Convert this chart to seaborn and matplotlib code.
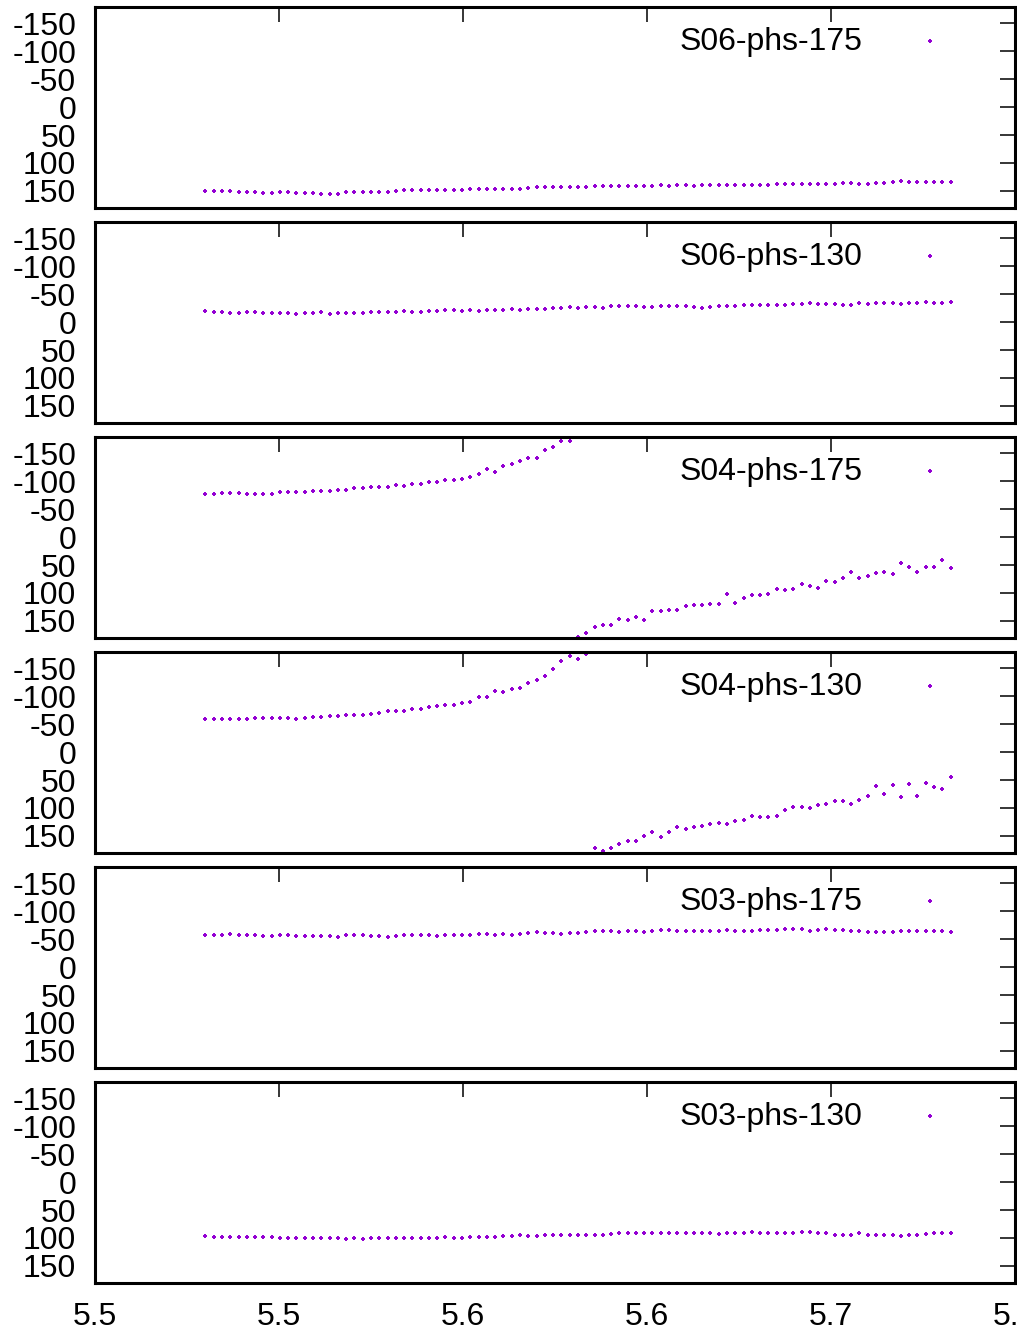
import numpy as np
import pandas as pd
import seaborn as sns
import matplotlib.pyplot as plt

# Data
freq_start, freq_step, n_pts = 5.48, 0.00225, 91
freq = freq_start + freq_step * np.arange(n_pts)

names = ['S06-phs-175', 'S06-phs-130', 'S04-phs-175', 'S04-phs-130', 'S03-phs-175', 'S03-phs-130']

s06_175 = [150, 150, 150, 150, 152, 152, 153, 154, 154, 152, 153, 154, 154, 154, 155, 155, 155, 152, 152, 152,
           152, 152, 152, 150, 149, 149, 149, 149, 149, 149, 149, 149, 147, 147, 147, 147, 146, 146, 146, 145,
           144, 144, 144, 144, 144, 143, 143, 142, 142, 142, 141, 142, 141, 141, 141, 140, 141, 140, 140, 141,
           140, 140, 140, 140, 140, 140, 140, 140, 139, 138, 137, 137, 137, 137, 137, 138, 138, 136, 136, 137,
           137, 136, 136, 134, 133, 134, 134, 134, 134, 134, 135]
s06_130 = [-20, -19, -19, -17, -16, -18, -19, -16, -16, -16, -16, -15, -16, -16, -18, -15, -16, -16, -16, -16,
           -18, -18, -19, -19, -20, -19, -19, -20, -20, -21, -21, -20, -21, -20, -21, -22, -22, -23, -22, -23,
           -24, -23, -25, -26, -27, -26, -27, -27, -26, -28, -29, -28, -28, -27, -27, -28, -28, -28, -28, -27,
           -26, -27, -28, -29, -29, -30, -30, -30, -30, -31, -30, -32, -32, -34, -33, -32, -32, -31, -31, -34,
           -33, -34, -35, -34, -33, -34, -34, -36, -35, -35, -36]
s04_175 = [-78, -77, -79, -79, -79, -77, -77, -77, -78, -80, -80, -80, -80, -82, -83, -82, -85, -84, -88, -88,
           -89, -90, -89, -94, -92, -96, -95, -98, -98, -102, -103, -105, -108, -114, -122, -117, -128, -131, -136, -142,
           -142, -156, -162, -173, -173, 179, 171, 161, 158, 158, 146, 148, 143, 148, 132, 132, 131, 130, 124, 122,
           121, 119, 119, 102, 118, 109, 103, 104, 102, 93, 94, 93, 84, 87, 92, 79, 81, 74, 63, 74,
           69, 64, 62, 66, 47, 53, 63, 53, 53, 41, 55]
s04_130 = [-60, -60, -60, -59, -60, -60, -61, -61, -61, -61, -61, -60, -62, -63, -63, -64, -64, -66, -66, -67,
           -69, -71, -73, -73, -73, -78, -77, -80, -83, -85, -84, -88, -89, -99, -98, -109, -108, -114, -115, -123,
           -129, -136, -149, -164, -172, -167, -176, 172, 178, 172, 165, 160, 160, 150, 144, 152, 144, 135, 137, 134,
           132, 128, 127, 129, 124, 121, 115, 117, 116, 115, 103, 98, 99, 100, 94, 93, 87, 88, 93, 86,
           79, 60, 75, 59, 81, 57, 79, 55, 63, 66, 45]
s03_175 = [-57, -58, -58, -60, -58, -57, -57, -56, -56, -58, -57, -55, -56, -55, -55, -55, -54, -58, -58, -58,
           -56, -55, -54, -55, -58, -58, -58, -58, -55, -58, -58, -58, -58, -60, -60, -58, -59, -58, -60, -61,
           -63, -62, -61, -60, -62, -61, -63, -64, -64, -64, -63, -64, -64, -63, -65, -66, -66, -65, -65, -64,
           -64, -65, -65, -66, -65, -64, -65, -66, -67, -67, -68, -68, -68, -65, -66, -68, -66, -67, -65, -64,
           -63, -63, -63, -63, -64, -64, -64, -64, -64, -64, -63]
s03_130 = [96, 98, 98, 99, 98, 99, 98, 98, 99, 101, 101, 101, 101, 101, 100, 100, 101, 102, 101, 102,
           100, 100, 100, 101, 101, 100, 101, 101, 100, 98, 100, 100, 99, 98, 98, 98, 96, 96, 95, 96,
           96, 95, 94, 94, 94, 94, 94, 95, 94, 93, 92, 91, 92, 92, 92, 91, 92, 92, 92, 92,
           92, 92, 93, 91, 91, 91, 90, 91, 91, 91, 91, 91, 89, 90, 91, 92, 94, 94, 94, 92,
           94, 94, 94, 95, 96, 94, 94, 93, 92, 92, 92]
series = [s06_175, s06_130, s04_175, s04_130, s03_175, s03_130]

x_ticks = [5.45, 5.50, 5.55, 5.60, 5.65, 5.70]
x_ticklabels = ['5.5', '5.5', '5.6', '5.6', '5.7', '5.7']
y_ticks = [-150, -100, -50, 0, 50, 100, 150]

# Drawing
sns.set_style("white")
plt.rcParams['font.family'] = ['Liberation Sans', 'DejaVu Sans']
plt.rcParams['font.size'] = 23
plt.rcParams['text.color'] = 'black'
plt.rcParams['axes.unicode_minus'] = False

fig, axes = plt.subplots(6, 1, figsize=(10.17, 13.32), dpi=100, sharex=True)
fig.subplots_adjust(left=0.0934, right=0.998, top=0.995, bottom=0.0371, hspace=0.0702)

for ax, name, vals in zip(axes, names, series):
    df = pd.DataFrame({'freq': freq, 'phase': vals})
    sns.scatterplot(df, x='freq', y='phase', ax=ax, color='#9400d3', marker='P',
                    s=12, linewidth=0, label=name)
    ax.set_xlim(5.45, 5.70)
    ax.set_ylim(180, -180)
    ax.set_yticks(y_ticks)
    ax.set_xticks(x_ticks)
    ax.set_xticklabels(x_ticklabels)
    ax.set_xlabel(None)
    ax.set_ylabel(None)
    for sp in ax.spines.values():
        sp.set_visible(True)
        sp.set_linewidth(2.2)
        sp.set_color('black')
    ax.tick_params(direction='in', length=11, width=1.1, color='black',
                   top=True, right=True, labelsize=23, labelcolor='black')
    ax.tick_params(axis='y', pad=13.5)
    ax.tick_params(axis='x', pad=14)
    ax.legend(loc='upper right', bbox_to_anchor=(0.942, 0.90), frameon=False,
              markerfirst=False, borderaxespad=0, borderpad=0, handlelength=2,
              handletextpad=1.1, markerscale=0.8, fontsize=23)

plt.savefig("out.png", dpi=100)
